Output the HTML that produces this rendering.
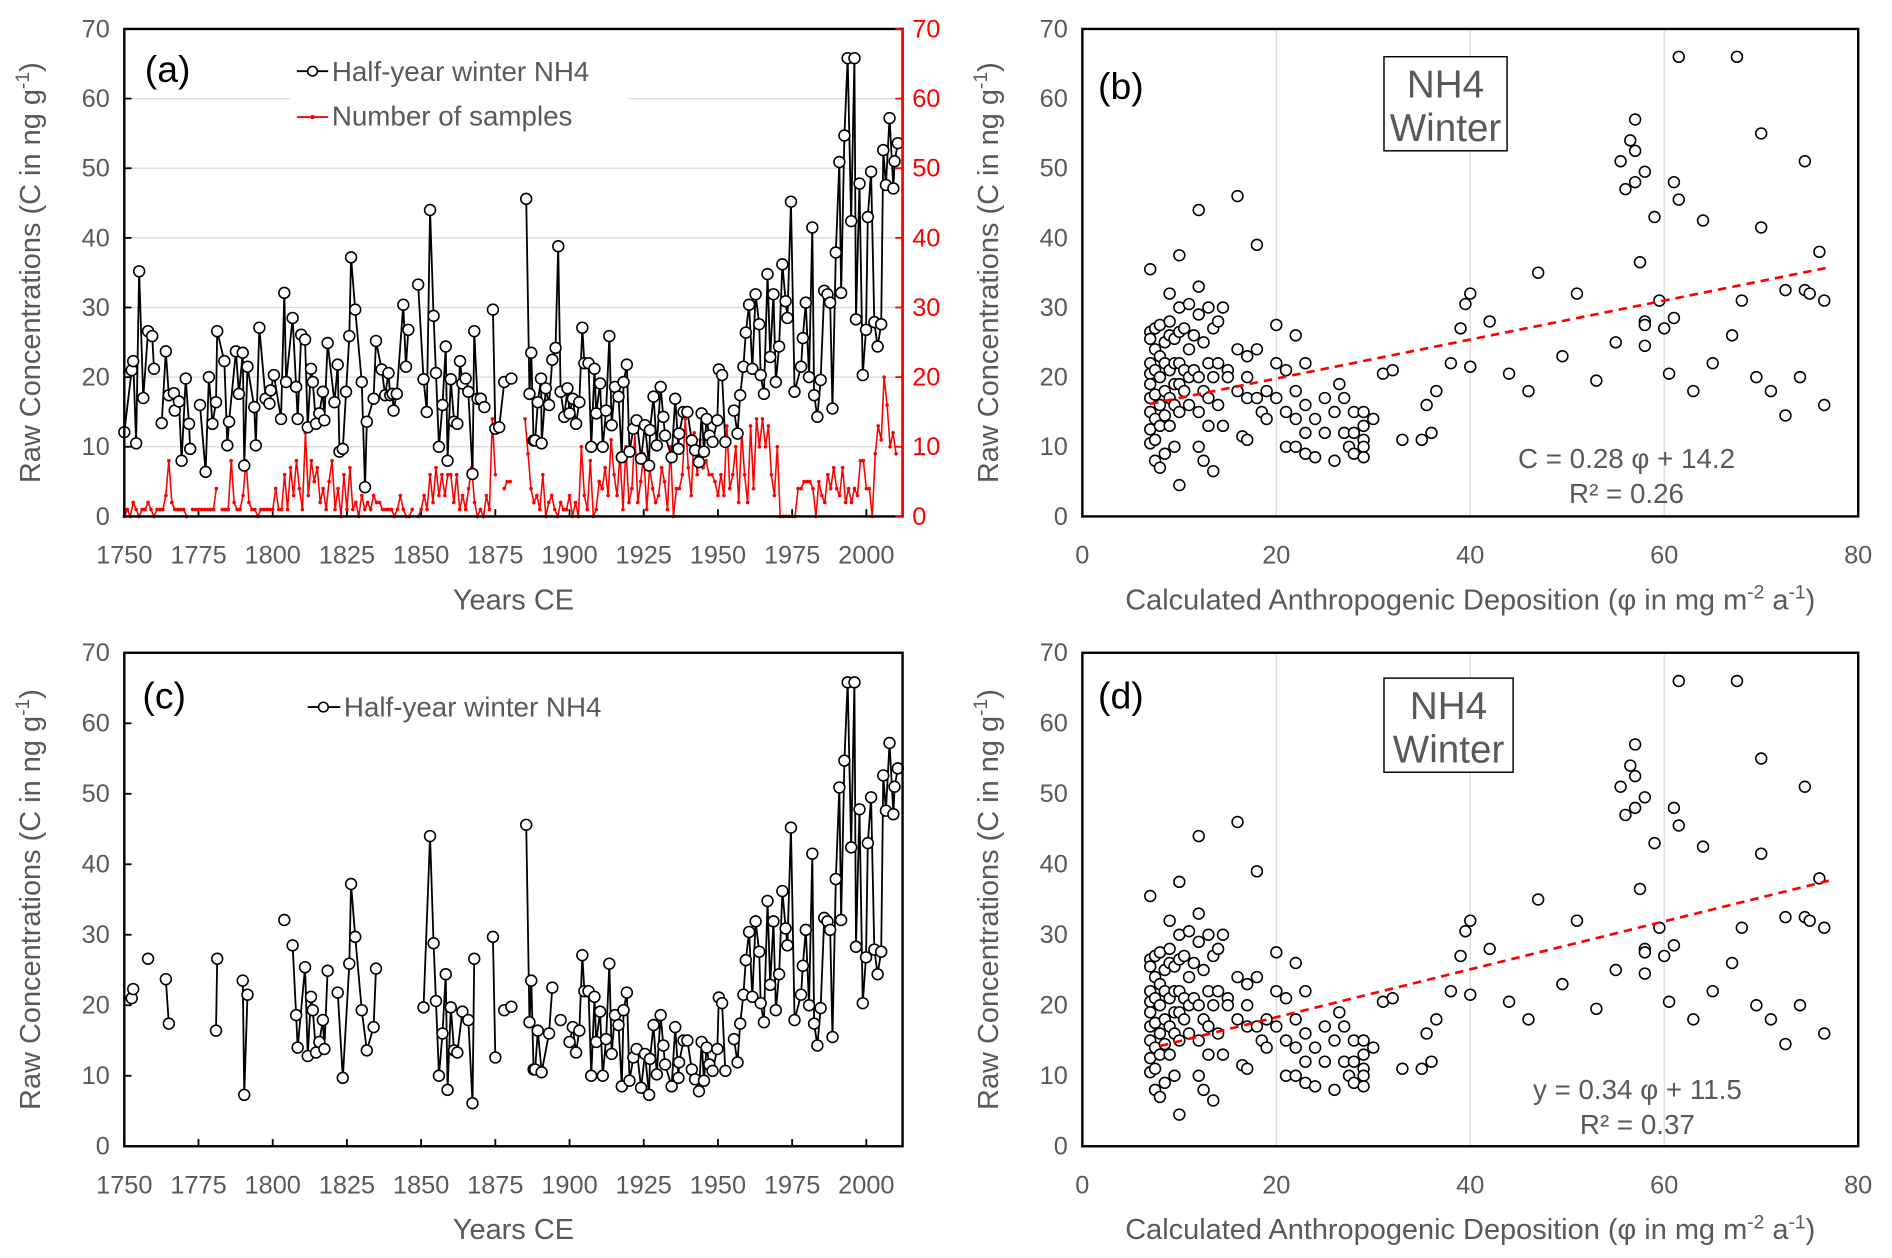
<!DOCTYPE html>
<html><head><meta charset="utf-8"><style>
html,body{margin:0;padding:0;background:#fff;}
svg{display:block;font-family:"Liberation Sans",sans-serif;}
</style></head><body>
<svg id="fig" width="1892" height="1258" viewBox="0 0 1568 1042.6" xmlns="http://www.w3.org/2000/svg"></svg>
<script>
const tsYears=[1750,1752.5,1753,1754,1755,1756.4,1758,1759.4,1760,1762.6,1764,1765,1766.7,1767,1768.4,1769.3,1770.7,1771.8,1772.2,1775.5,1777.4,1778.5,1779.7,1780.9,1781.3,1783.7,1784.7,1785.3,1787.6,1788.6,1789.9,1790.4,1791.5,1793.8,1794.3,1795.5,1797.6,1798.9,1799.3,1800.4,1802.8,1803.9,1804.5,1806.7,1807.9,1808.4,1809.6,1810.9,1811.8,1812.9,1813.5,1814.6,1815.7,1816.9,1817.4,1818.5,1820.8,1821.9,1822.5,1823.6,1824.7,1825.8,1826.4,1827.8,1830,1831.1,1831.7,1834,1834.8,1836.7,1837.9,1839,1839.6,1840.4,1840.7,1841.8,1844,1844.9,1845.7,1849,1850.8,1851.9,1853,1854.2,1855,1856,1857.2,1858.3,1858.9,1860,1861.1,1862.2,1863.1,1863.9,1865,1865.9,1867.3,1867.9,1869,1870.1,1871.3,1874.2,1875,1876.3,1878,1880.4,1885.4,1886.5,1887.1,1887.9,1888.4,1889.3,1890.4,1890.6,1892,1893.1,1894.2,1895.3,1896.2,1897,1898.2,1899.3,1900,1901.1,1902.2,1903.3,1904.3,1905,1906.4,1907.3,1908.4,1909,1910.3,1911.2,1912.3,1913.4,1914.2,1915.3,1916.5,1917.6,1918.2,1919.3,1920.2,1921.5,1922.6,1924.1,1925.4,1926.8,1927.1,1928.3,1929.4,1930.7,1931.6,1932.2,1934.4,1935.6,1936.7,1936.9,1938.4,1939.7,1941.2,1942.3,1943.6,1944.5,1945.3,1946.2,1947.1,1948.2,1949.8,1950.3,1951.4,1952.5,1955.4,1956.6,1957.5,1958.6,1959.4,1960.5,1961.6,1962.7,1963.9,1964.4,1965.5,1966.7,1967.6,1968.7,1969.5,1970.6,1971.7,1972.8,1973.4,1974.6,1975.8,1978,1978.6,1979.6,1980.7,1981.8,1982.4,1983.5,1984.6,1985.8,1986.9,1987.8,1988.6,1989.7,1990.9,1991.5,1992.6,1993.7,1994.9,1996,1996.5,1997.7,1998.8,1999.9,2000.5,2001.6,2002.7,2003.8,2005,2005.7,2006.6,2007.8,2009.1,2009.5,2010.6];
const tsValues=[12.1,21,22.3,10.5,35.2,17,26.6,25.9,21.2,13.4,23.7,17.4,17.7,15.2,16.5,8,19.8,13.3,9.7,16,6.4,20,13.3,16.4,26.6,22.3,10.2,13.6,23.7,17.6,23.5,7.3,21.5,15.7,10.2,27.1,16.9,16.2,18.1,20.3,14,32.1,19.3,28.5,18.6,14,26.1,25.4,12.8,21.2,19.3,13.3,14.8,17.9,13.8,24.9,16.4,21.8,9.3,9.7,17.9,25.9,37.2,29.7,19.3,4.2,13.6,16.9,25.2,21.1,17.4,20.6,17.4,17.6,15.2,17.6,30.4,21.5,26.8,33.3,19.7,15,44,28.8,20.6,10,16,24.4,8,19.7,13.6,13.3,22.3,19.1,19.8,17.9,6.1,26.6,16.9,16.9,15.7,29.7,12.6,12.8,19.3,19.8,45.6,17.6,23.5,10.9,10.9,16.4,19.8,10.5,18.4,16,22.5,24.2,38.8,17.9,14.3,18.4,14.8,16.9,13.3,16.4,27.1,22,22,10,21.2,14.8,19.1,10,15.2,25.9,13.1,18.6,17.2,8.5,19.3,21.8,9.3,12.6,13.8,8.3,13.1,7.3,12.4,17.2,10.2,18.6,14.3,11.6,8.5,16.9,9.7,11.9,15,15,10.9,9.5,7.8,14.8,9.3,14,11.6,10.7,13.8,21.1,20.3,10.7,15.2,11.9,17.4,21.5,26.4,30.4,21.2,31.9,27.6,20.3,17.6,34.8,22.9,31.9,19.3,24.4,36.2,30.9,28.5,45.2,17.9,21.5,25.6,30.7,20,41.5,17.4,14.3,19.6,32.4,31.9,30.7,15.5,37.9,50.9,32.1,54.7,65.8,42.4,65.8,28.3,47.8,20.3,26.8,43,49.5,27.9,24.4,27.6,52.6,47.6,57.2,47.1,51,53.6];
const sampleStartYear=1750;
const sampleCounts=[0,1,0,2,1,0,1,1,2,1, 0,1,1,1,3,8,2,1,1,1, 1,0,null,1,1,1,1,1,1,1, 1,4,null,1,1,1,8,2,1,1, 3,8,2,1,1,0,1,1,1,1, 1,4,1,1,6,1,7,3,8,4, 1,12,3,8,5,7,2,4,1,5, 8,1,4,0,6,1,7,1,2,0, 3,1,2,1,3,2,2,1,1,1, 1,0,1,3,1,0,0,1,null,0, 1,3,1,6,2,7,3,6,3,6, 6,2,6,1,3,1,4,7,2,0, 1,0,3,1,14,6,null,null,4,5, 5,null,null,null,null,14,9,4,2,3, 1,6,0,2,3,1,0,2,1,1, 3,0,2,0,10,3,1,8,0,1, 5,4,7,3,11,6,3,9,1,10, 2,4,12,2,5,9,1,7,4,2, 3,7,5,1,10,0,4,4,6,14, 7,3,12,6,11,7,8,6,6,5, 3,6,3,13,4,6,10,2,12,6, 2,13,4,14,10,14,10,13,6,3, 10,0,0,0,0,0,0,4,4,5, 5,5,4,0,5,3,2,6,4,7, 4,3,7,2,4,2,4,3,8,8, 4,4,0,9,13,11,20,16,10,12, 9];
const phiValues=[7,7,7,7,7,7,7,7,7,7,7.5,7.5,7.5,7.5,7.5,7.5,7.5,8,8,8,8,8,8,8.5,8.5,8.5,8.5,8.5,9,9,9,9,9,9,9.5,9.5,9.5,9.5,9.5,10,10,10,10,10,10,10,10.5,10.5,10.5,11,11,11,11,11.5,11.5,12,12,12,12,12,12,12.5,12.5,12.5,13,13,13,13,13.5,13.5,13.5,14,14,14,14.5,14.5,15,15,16,16,16,16.5,17,17,17,17,18,18,18,18.5,19,19,20,20,20,21,21,21,22,22,22,22,23,23,23,23,24,24,25,25,26,26,26.5,27,27,27.5,28,28,28,29,29,29,29,29,30,31,32,33,35,35.5,36,36.5,38,39,39.5,40,40,42,44,46,47,49.5,51,53,55,55.5,56,56.5,57,57,57,57.5,58,58,58,58,59,59.5,60,60.5,61,61,61.5,61.5,63,64,65,67,67.5,68,69.5,70,70,71,72.5,72.5,74,74.5,74.5,75,76,76.5,76.5];
const concValues=[35.5,26.5,25.5,22,20.5,19,17,15,12.5,10.5,27,24,21,17.5,14,11,8,27.5,23,20,16,13,7,25,22,18,14.5,9,32,28,26,21,17,13,25.5,22,19,16,10,37.5,30,26.5,22,19,15,4.5,27,21,18,30.5,24,20,16,26,21,44,33,29,20,15,10,25,18,8,30,22,17,13,27,20,6.5,28,22,16,30,13,21,20,46,24,18,11.5,23,20,17,11,39,24,17,15,18,14,27.5,22,17,21,15,10,26,18,14,10,22,16,12,9,14,8.5,17,12,8,15,19,12,17,10,15,12,9,15,13,11,10,8.5,14,20.5,21,11,11,16,12,18,22,27,30.5,21.5,32,28,20.5,18,35,23,32,19.5,25,51,47,54,57,52.5,48,36.5,28,27.5,24.5,49.5,43,31,27,20.5,28.5,48,45.5,66,18,42.5,22,26,66,31,20,55,41.5,18,14.5,32.5,20,32.5,51,32,38,31,16];
const fitB=[0.28,14.2], fitD=[0.34,11.5];
const yTicks=[0,10,20,30,40,50,60,70];
const yearTicks=[1750,1775,1800,1825,1850,1875,1900,1925,1950,1975,2000];
const phiTicks=[0,20,40,60,80];

const NS='http://www.w3.org/2000/svg';
const svg=document.getElementById('fig');
function mk(tag,attrs,parent,text){const e=document.createElementNS(NS,tag);for(const k in attrs)e.setAttribute(k,attrs[k]);if(text!==undefined)e.textContent=text;(parent||svg).appendChild(e);return e;}
const GRAY='#595959';

function panel(o){
  const g=mk('g',{});
  
  
  const xs=v=>o.x0+(v-o.xmin)/(o.xmax-o.xmin)*(o.x1-o.x0);
  const ys=v=>o.y1-(v/70)*(o.y1-o.y0);
  if(o.hgrid){yTicks.slice(1).forEach(t=>{const l=mk('line',{x1:o.x0,x2:o.x1,y1:ys(t),y2:ys(t),stroke:'#d9d9d9','stroke-width':1},g);});}
  if(o.vgrid){o.xticks.slice(1,-1).forEach(t=>{const l=mk('line',{x1:xs(t),x2:xs(t),y1:o.y0,y2:o.y1,stroke:'#d9d9d9','stroke-width':1},g);});}
  yTicks.forEach(t=>{const tx=mk('text',{x:o.x0-12,y:ys(t)+7,'text-anchor':'end','font-size':21,fill:GRAY},g,t);
    if(o.ticksY){mk('line',{x1:o.x0,x2:o.x0+6,y1:ys(t),y2:ys(t),stroke:'#000','stroke-width':1.5},g);}});
  o.xticks.forEach(t=>{const tx=mk('text',{x:xs(t),y:o.y1+39,'text-anchor':'middle','font-size':21,fill:GRAY},g,t);
    if(o.ticksX) mk('line',{x1:xs(t),x2:xs(t),y1:o.y1,y2:o.y1-6,stroke:'#000','stroke-width':1.5},g);});
  const yt=mk('text',{x:0,y:0,transform:`translate(${o.x0-70},${(o.y0+o.y1)/2}) rotate(-90)`,'text-anchor':'middle','font-size':24,fill:GRAY},g);
  
  yt.innerHTML='Raw Concentrations (C in ng g<tspan dy="-9" font-size="16">-1</tspan><tspan dy="9">)</tspan>';
  const xt=mk('text',{x:(o.x0+o.x1)/2,y:o.y1+77,'text-anchor':'middle','font-size':24,fill:GRAY},g);
  
  xt.innerHTML=o.xtitle;
  return {g,xs,ys};
}
function frame(o,g,redRight){
  mk('rect',{x:o.x0,y:o.y0,width:o.x1-o.x0,height:o.y1-o.y0,fill:'none',stroke:'#000','stroke-width':2},g);
  if(redRight) mk('line',{x1:o.x1,x2:o.x1,y1:o.y0,y2:o.y1,stroke:'#f00','stroke-width':2},g);
}
function tsLine(P,g,yrs,vals,name){
  let d='';
  for(let i=0;i<yrs.length;i++){
    const brk=i===0||yrs[i]-yrs[i-1]>2.5;
    d+=(brk?'M':'L')+P.xs(yrs[i]).toFixed(1)+','+P.ys(vals[i]).toFixed(1);
  }
  const p=mk('path',{d,fill:'none',stroke:'#000','stroke-width':1.5},g);
  
  for(let i=0;i<yrs.length;i++){
    const c=mk('circle',{cx:P.xs(yrs[i]),cy:P.ys(vals[i]),r:4.5,fill:'#fff',stroke:'#000','stroke-width':1.3},g);
    
  }
}
function scatter(P,g,fit,x0,x1){
  for(let i=0;i<phiValues.length;i++){
    const c=mk('circle',{cx:P.xs(phiValues[i]),cy:P.ys(concValues[i]),r:4.5,fill:'#fff',stroke:'#000','stroke-width':1.3},g);
    
  }
  const l=mk('line',{x1:P.xs(x0),y1:P.ys(fit[0]*x0+fit[1]),x2:P.xs(x1),y2:P.ys(fit[0]*x1+fit[1]),stroke:'#f00','stroke-width':2.2,'stroke-dasharray':'7,5'},g);
  
}
function label(g,x,y,t,name,size){const e=mk('text',{x,y,'font-size':size||31,fill:'#000'},g,t);return e;}
function nhBox(g,x,y,w,h){
  const r=mk('rect',{x,y,width:w,height:h,fill:'#fff',stroke:'#000','stroke-width':1.2},g);
  
  const t1=mk('text',{x:x+w/2,y:y+34,'text-anchor':'middle','font-size':32,fill:GRAY},g,'NH4');
  const t2=mk('text',{x:x+w/2,y:y+70,'text-anchor':'middle','font-size':32,fill:GRAY},g,'Winter');
}
const xtYears='Years CE';
const xtPhi='Calculated Anthropogenic Deposition (φ in mg m<tspan dy="-9" font-size="16">-2</tspan><tspan dy="9"> a</tspan><tspan dy="-9" font-size="16">-1</tspan><tspan dy="9">)</tspan>';

// Panel a
const oa={name:'panel-a',x0:103,x1:748,y0:24,y1:428,xmin:1750,xmax:2012.2,xticks:yearTicks,xtitle:xtYears,hgrid:true,ticksY:true,ticksX:true};
const A=panel(oa);
const lgA=mk('rect',{x:240,y:38,width:280,height:78,fill:'#fff'},A.g);

{let d='';let pen=false;
 for(let i=0;i<sampleCounts.length;i++){const v=sampleCounts[i];if(v===null){pen=false;continue;}
  d+=(pen?'L':'M')+A.xs(sampleStartYear+i).toFixed(1)+','+A.ys(v).toFixed(1);pen=true;}
 const p=mk('path',{d,fill:'none',stroke:'#f00','stroke-width':1.3},A.g);
 
 for(let i=0;i<sampleCounts.length;i++){const v=sampleCounts[i];if(v===null)continue;
  const c=mk('circle',{cx:A.xs(sampleStartYear+i),cy:A.ys(v),r:1.5,fill:'#f00'},A.g);
  }
}
tsLine(A,A.g,tsYears,tsValues,'nh4-winter');
frame(oa,A.g,true);
yTicks.forEach(t=>{const tx=mk('text',{x:756,y:A.ys(t)+7,'font-size':21,fill:'#f00'},A.g,t);
  mk('line',{x1:748,x2:742,y1:A.ys(t),y2:A.ys(t),stroke:'#f00','stroke-width':1.5},A.g);});
label(A.g,120,68,'(a)','panel-label-a');
mk('line',{x1:246,x2:272,y1:59,y2:59,stroke:'#000','stroke-width':1.5},A.g);
mk('circle',{cx:259,cy:59,r:4,fill:'#fff',stroke:'#000','stroke-width':1.3},A.g);
{const t=mk('text',{x:275,y:67,'font-size':23,fill:GRAY},A.g,'Half-year winter NH4');}
mk('line',{x1:246,x2:272,y1:97,y2:97,stroke:'#f00','stroke-width':1.5},A.g);
mk('circle',{cx:259,cy:97,r:1.8,fill:'#f00'},A.g);
{const t=mk('text',{x:275,y:104,'font-size':23,fill:GRAY},A.g,'Number of samples');}

// Panel b
const ob={name:'panel-b',x0:897,x1:1540,y0:24,y1:428,xmin:0,xmax:80,xticks:phiTicks,xtitle:xtPhi,vgrid:true};
const B=panel(ob);
scatter(B,B.g,fitB,7,77);
frame(ob,B.g,false);
label(B.g,910,82,'(b)','panel-label-b');
nhBox(B.g,1147,47,102,78);
{const t=mk('text',{x:1348,y:388,'text-anchor':'middle','font-size':23,fill:GRAY},B.g,'C = 0.28 φ + 14.2');
 const r=mk('text',{x:1348,y:417,'text-anchor':'middle','font-size':23,fill:GRAY},B.g,'R² = 0.26');}

// Panel c
const oc={name:'panel-c',x0:103,x1:748,y0:541,y1:950,xmin:1750,xmax:2012.2,xticks:yearTicks,xtitle:xtYears,ticksY:true,ticksX:true};
const C=panel(oc);
const cYears=[],cValues=[];
tsYears.forEach((y,i)=>{const n=sampleCounts[Math.round(y)-sampleStartYear];if(y>=1900||(n!==null&&n>=2)){cYears.push(y);cValues.push(tsValues[i]);}});
const lgC=mk('rect',{x:248,y:568,width:272,height:38,fill:'#fff'},C.g);

tsLine(C,C.g,cYears,cValues,'nh4-winter-c');
frame(oc,C.g,false);
label(C.g,118,587,'(c)','panel-label-c');
mk('line',{x1:255,x2:282,y1:586,y2:586,stroke:'#000','stroke-width':1.5},C.g);
mk('circle',{cx:268,cy:586,r:4,fill:'#fff',stroke:'#000','stroke-width':1.3},C.g);
{const t=mk('text',{x:285,y:594,'font-size':23,fill:GRAY},C.g,'Half-year winter NH4');}

// Panel d
const od={name:'panel-d',x0:897,x1:1540,y0:541,y1:950,xmin:0,xmax:80,xticks:phiTicks,xtitle:xtPhi,vgrid:true};
const D=panel(od);
scatter(D,D.g,fitD,8,77);
frame(od,D.g,false);
label(D.g,910,587,'(d)','panel-label-d');
nhBox(D.g,1147,562,107,78);
{const t=mk('text',{x:1357,y:911,'text-anchor':'middle','font-size':23,fill:GRAY},D.g,'y = 0.34 φ  + 11.5');
 const r=mk('text',{x:1357,y:940,'text-anchor':'middle','font-size':23,fill:GRAY},D.g,'R² = 0.37');}
</script>
</body></html>
